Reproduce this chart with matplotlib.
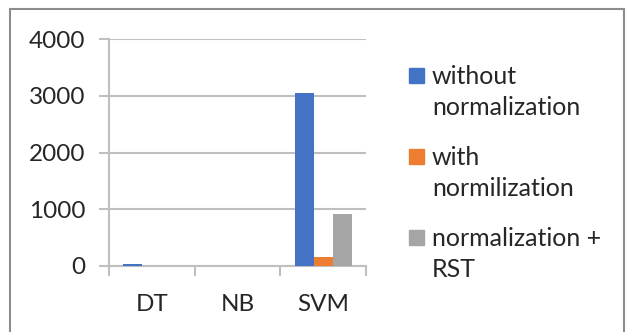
import numpy as np
import matplotlib
matplotlib.use("Agg")
import matplotlib.pyplot as plt
from matplotlib.patches import Rectangle

categories = ["DT", "NB", "SVM"]
series_names = ["without\nnormalization", "with\nnormilization", "normalization +\nRST"]
without_norm = [35, 1, 3055]
with_norm = [1, 0.5, 150]
norm_rst = [2, 0.5, 925]
colors = ["#4472C4", "#ED7D31", "#A5A5A5"]

plt.rcParams["font.family"] = ["Lato", "DejaVu Sans"]
text_color = "#262626"
grid_color = "#BFBFBF"
W, H = 628, 332

fig = plt.figure(figsize=(W / 100, H / 100), dpi=100)
ax = fig.add_axes([109 / W, 66 / H, (366 - 109) / W, (266 - 39) / H])

x = np.arange(len(categories))
width = 2 / 9
for i, vals in enumerate([without_norm, with_norm, norm_rst]):
    ax.bar(x + (i - 1) * width, vals, width, color=colors[i], label=series_names[i], zorder=3)

ax.set_xlim(-0.5, len(categories) - 0.5)
ax.set_ylim(0, 4000)
ax.set_yticks([0, 1000, 2000, 3000, 4000])
ax.yaxis.grid(True, color=grid_color, linewidth=1.5, zorder=0)

ax.set_xticks(x)
ax.set_xticklabels(categories)
ax.set_xticks(np.arange(len(categories) + 1) - 0.5, minor=True)
ax.tick_params(axis="x", which="major", length=0, pad=20, labelsize=17.5, colors=text_color)
ax.tick_params(axis="x", which="minor", length=7, width=1.5, color=grid_color)
ax.tick_params(axis="y", length=7, width=1.5, color=grid_color, pad=10, labelsize=17.5, labelcolor=text_color)

for side in ["top", "right"]:
    ax.spines[side].set_visible(False)
for side in ["left", "bottom"]:
    ax.spines[side].set_color(grid_color)
    ax.spines[side].set_linewidth(1.5)

# legend drawn by hand so the square sits beside the first line of each label
for i, (name, c) in enumerate(zip(series_names, colors)):
    base = 83 + i * 81
    fig.patches.append(Rectangle((409 / W, 1 - base / H), 15 / W, 15 / H,
                                 transform=fig.transFigure, color=c))
    # baseline alignment uses the last line, which sits one line below
    fig.text(432 / W, 1 - (base + 32) / H, name, fontsize=18, color=text_color,
             va="baseline", ha="left", linespacing=1.42)

fig.patches.append(Rectangle((10 / W, -0.1), 614 / W, 1.1 - 9 / H, transform=fig.transFigure,
                             fill=False, edgecolor="#8C8C8C", linewidth=1.5))

fig.savefig("out.png", dpi=100)
